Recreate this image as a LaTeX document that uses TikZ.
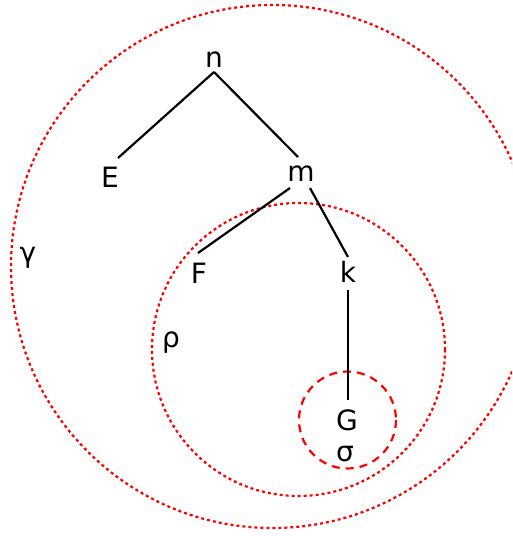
\documentclass[tikz,border=0pt]{standalone}
\usepackage{fontspec}
\setmainfont{DejaVu Sans}
\begin{document}
\begin{tikzpicture}[x=1pt,y=-1pt,
  lbl/.style={inner sep=0pt, font=\fontsize{28}{30}\selectfont},
  edge/.style={draw=black, line width=2.2pt},
  dotring/.style={draw=red, line width=2.2pt, dash pattern=on 3pt off 3pt},
  dashring/.style={draw=red, line width=2.2pt, dash pattern=on 8pt off 6pt}]
\useasboundingbox (0,0) rectangle (512,536);
\begin{scope}
\clip (0,0) rectangle (512,536);
\draw[dotring] (272.5,266.5) circle (261.5);
\end{scope}
\draw[dotring] (298.5,349.5) circle (146.5);
\draw[dashring] (347.5,420) circle (48.5);
\node[lbl] (n) at (214,60) {n};
\node[lbl] (E) at (110,177) {E};
\node[lbl] (m) at (301,174) {m};
\node[lbl] (F) at (199,273) {F};
\node[lbl] (k) at (348,272) {k};
\node[lbl] (G) at (347,420) {G};
\node[lbl] (s) at (345,454) {σ};
\node[lbl] (r) at (171,343) {ρ};
\node[lbl] (g) at (28,258) {γ};
\coordinate (nb) at (214,72);
\coordinate (Et) at (118,158);
\coordinate (mt) at (298,157);
\coordinate (ml) at (290,188);
\coordinate (mr) at (310,188);
\coordinate (Ft) at (198,253);
\coordinate (kt) at (348,257);
\coordinate (kb) at (348,290);
\coordinate (Gt) at (348,400);
\draw[edge] (nb) -- (Et);
\draw[edge] (nb) -- (mt);
\draw[edge] (ml) -- (Ft);
\draw[edge] (mr) -- (kt);
\draw[edge] (kb) -- (Gt);
\end{tikzpicture}
\end{document}
